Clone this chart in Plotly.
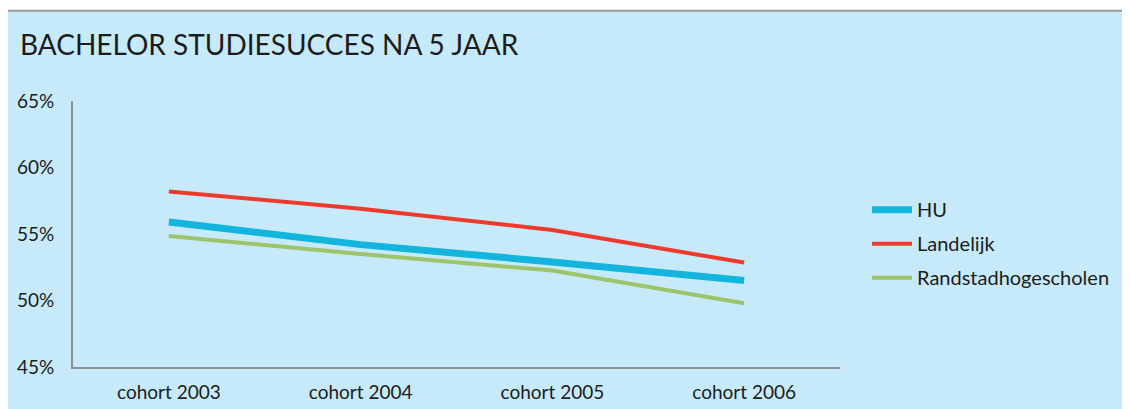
import plotly.graph_objects as go

categories = ["cohort 2003", "cohort 2004", "cohort 2005", "cohort 2006"]
hu = [55.9, 54.2, 52.9, 51.5]
landelijk = [58.2, 56.9, 55.3, 52.85]
randstad = [54.85, 53.5, 52.25, 49.8]
y_ticks = [45, 50, 55, 60, 65]
title_text = "BACHELOR STUDIESUCCES NA 5 JAAR"

# page body has an 8px margin; work in screen coordinates and subtract it
O = 8
SW, SH = 1130, 409
W, H = SW - O, SH - O
PL, PR, PT, PB = 73, 840, 100.5, 367.5   # plot area on screen
L, T = PL - O, PT - O
R = W - (PR - O)
B = H - (PB - O)
PW, PH = W - L - R, H - T - B

def px_x(p):
    return (p - O - L) / PW

def px_y(p):
    return (H - B - (p - O)) / PH

FONT = "Lato, 'Noto Sans', sans-serif"
TXT = "#1c1c1c"
BG = "#C6EAF9"

fig = go.Figure()
fig.add_trace(go.Scatter(x=categories, y=hu, name="HU", mode="lines",
                         line=dict(color="#13B5DD", width=7), legendgroup="a"))
fig.add_trace(go.Scatter(x=categories, y=landelijk, name="Landelijk", mode="lines",
                         line=dict(color="#EE3A2D", width=4), legendgroup="b"))
fig.add_trace(go.Scatter(x=categories, y=randstad, name="Randstadhogescholen", mode="lines",
                         line=dict(color="#9CC46B", width=4), legendgroup="c"))

fig.add_shape(type="rect", xref="paper", yref="paper",
              x0=px_x(5), x1=px_x(SW + 20), y0=px_y(SH + 20), y1=px_y(10),
              fillcolor=BG, line=dict(color="#9a9a9a", width=2), layer="below")

fig.add_annotation(text=title_text, xref="paper", yref="paper",
                   x=px_x(18), y=px_y(43), xanchor="left", yanchor="middle",
                   showarrow=False, font=dict(family=FONT, size=28, color=TXT))

fig.update_layout(
    width=W, height=H,
    margin=dict(l=L, r=R, t=T, b=B, pad=0, autoexpand=False),
    paper_bgcolor="white",
    plot_bgcolor="rgba(0,0,0,0)",
    font=dict(family=FONT, size=19, color=TXT),
    showlegend=True,
    legend=dict(x=px_x(867), y=px_y(190), xanchor="left", yanchor="top",
                bgcolor="rgba(0,0,0,0)", traceorder="grouped", tracegroupgap=5,
                font=dict(family=FONT, size=20, color=TXT), itemwidth=40),
    xaxis=dict(range=[-0.5, 3.5], showgrid=False, zeroline=False,
               showline=True, linecolor="#8f8f8f", linewidth=2,
               ticks="outside", ticklen=7, tickcolor="rgba(0,0,0,0)",
               tickfont=dict(family=FONT, size=19, color=TXT)),
    yaxis=dict(range=[45, 65], tickvals=y_ticks, ticktext=[f"{v}%" for v in y_ticks],
               showgrid=False, zeroline=False,
               showline=True, linecolor="#8f8f8f", linewidth=2,
               ticks="outside", ticklen=13, tickcolor="rgba(0,0,0,0)",
               tickfont=dict(family=FONT, size=19, color=TXT)),
)

fig.write_html("out.html")
